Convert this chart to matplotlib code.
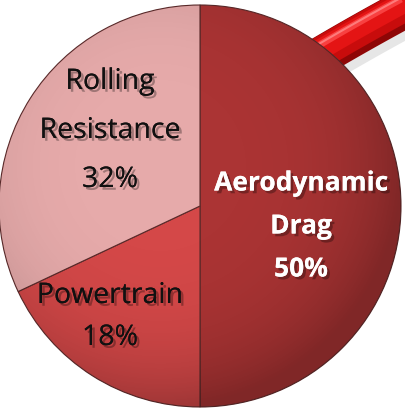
import matplotlib
matplotlib.use("Agg")
import matplotlib.pyplot as plt
import matplotlib.patheffects as pe
import numpy as np

categories = ["Aerodynamic\nDrag", "Powertrain", "Rolling\nResistance"]
values = [50, 18, 32]
colors = ["#ab3434", "#d44848", "#e6aaaa"]
text_colors = ["white", "#111111", "#111111"]
weights = ["bold", "normal", "normal"]

W, H = 405, 411
fig = plt.figure(figsize=(W / 100, H / 100), dpi=100)
ax = fig.add_axes([0, 0, 1, 1])

cx, cy, R = 200, 206, 201

# red curved tube behind the pie (top-right), coordinates in pixels from top
t = np.linspace(0, 1, 80)
p0, p1, p2 = np.array([265, 90]), np.array([345, 40]), np.array([425, -2])
curve = ((1 - t) ** 2)[:, None] * p0 + (2 * (1 - t) * t)[:, None] * p1 + (t ** 2)[:, None] * p2
cxs, cys = curve[:, 0], H - curve[:, 1]
ax.plot(cxs + 4, cys - 8, color="#c8c8c8", lw=28, solid_capstyle="butt", zorder=0, alpha=0.45)
ax.plot(cxs, cys, color="#8e0606", lw=28, solid_capstyle="butt", zorder=0)
ax.plot(cxs - 1.5, cys + 2.5, color="#c80c0c", lw=23, solid_capstyle="butt", zorder=0)
ax.plot(cxs - 3, cys + 5, color="#e41414", lw=15, solid_capstyle="butt", zorder=0)
ax.plot(cxs - 5, cys + 9, color="#f84040", lw=5, solid_capstyle="butt", zorder=0)
ax.plot(cxs - 5.5, cys + 10, color="#ff8a8a", lw=1.5, solid_capstyle="butt", zorder=0, alpha=0.8)

wedges, _ = ax.pie(values, colors=colors, startangle=90, counterclock=False,
                   center=(cx, H - cy), radius=R, frame=True,
                   wedgeprops=dict(edgecolor="#5a2a2a", linewidth=0.8, zorder=2))
ax.set_xlim(0, W)
ax.set_ylim(0, H)
ax.set_aspect("equal")
ax.axis("off")

# subtle radial shading toward the rim (lit from upper left)
yy, xx = np.mgrid[0:H, 0:W]
d = np.sqrt((xx - cx + 40) ** 2 + (yy - (H - cy) - 40) ** 2) / (R * 1.2)
shade = np.zeros((H, W, 4))
shade[..., 3] = np.clip(d, 0, 1) ** 4 * 0.25
for w in wedges:
    im = ax.imshow(shade, extent=(0, W, 0, H), origin="lower", zorder=3, interpolation="bilinear")
    im.set_clip_path(w)

sizes = [19, 20.5, 20.5]
# label centres (pixels from top) and line spacing
label_pos = [(301, 226), (110, 317), (110, 131)]
steps = [43, 42, 49]
for lab, v, (x, y), st, tc, fw, fs in zip(categories, values, label_pos, steps, text_colors, weights, sizes):
    lines = lab.split("\n") + [f"{v}%"]
    n = len(lines)
    for i, s in enumerate(lines):
        yp = y + (i - (n - 1) / 2) * st
        ax.text(x, H - yp, s, ha="center", va="center", fontsize=fs, color=tc,
                fontweight=fw, family=["Open Sans", "DejaVu Sans"], zorder=5,
                path_effects=[pe.withSimplePatchShadow(offset=(2, -2), shadow_rgbFace="black", alpha=0.3), pe.Normal()])

fig.savefig("out.png", dpi=100, facecolor="white")
